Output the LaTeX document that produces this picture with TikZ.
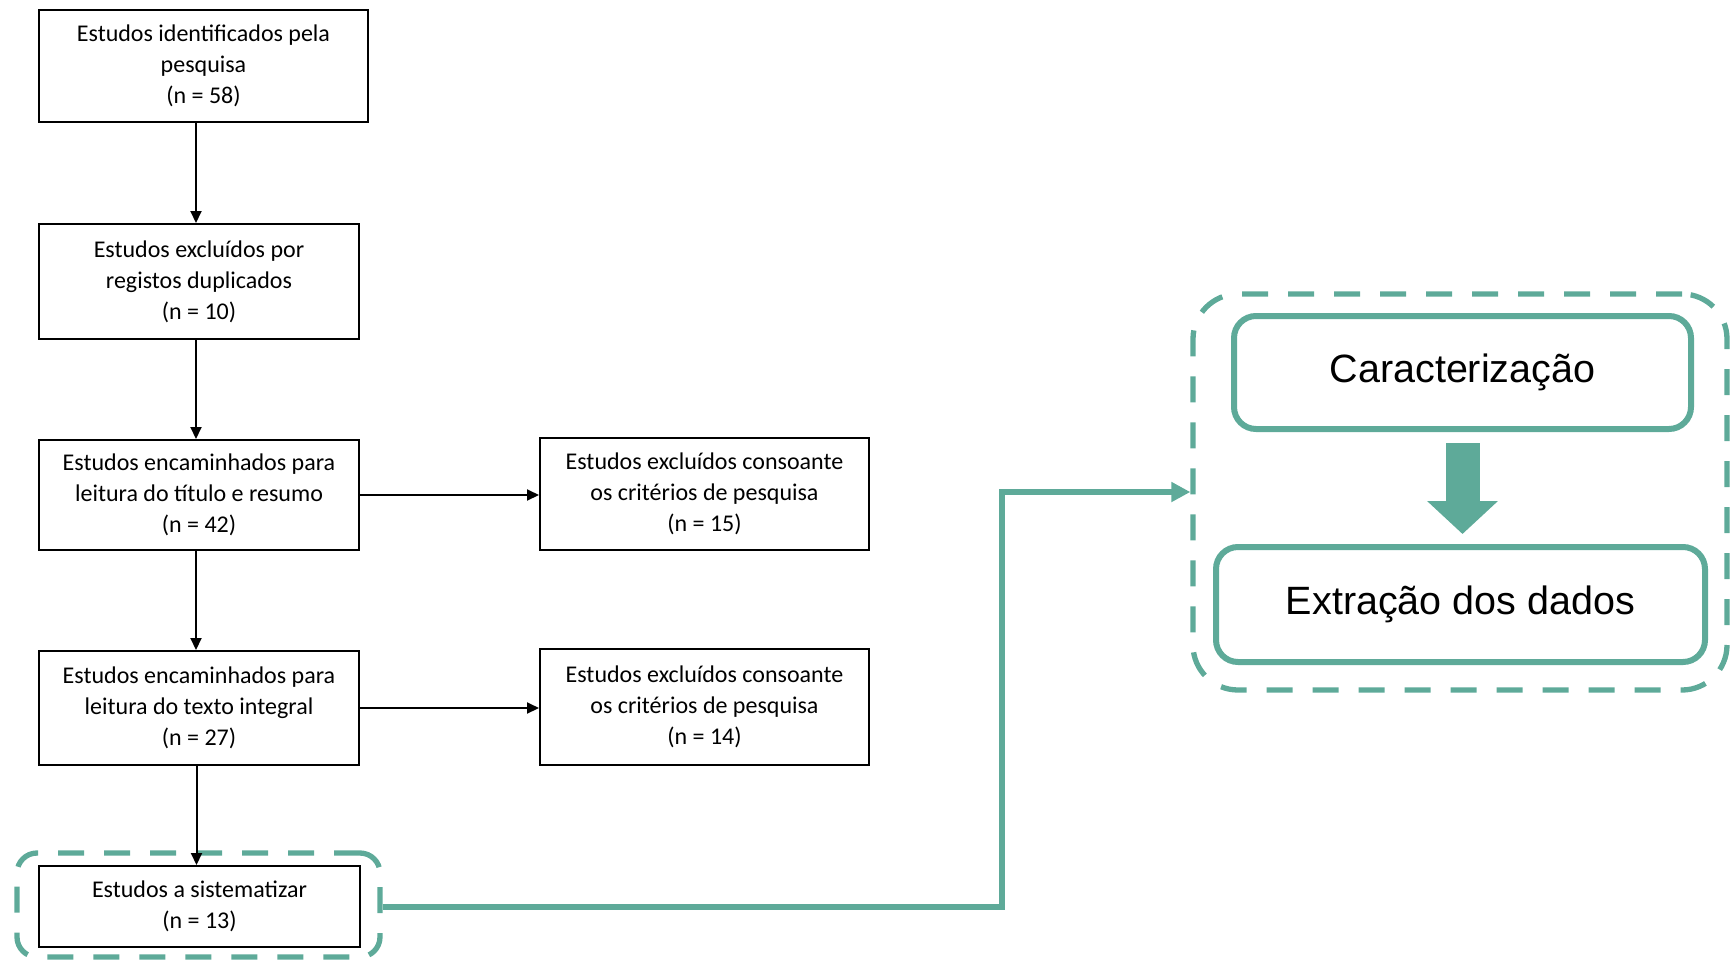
\documentclass[tikz,border=0pt]{standalone}
\usepackage{fontspec}
\setmainfont{Carlito}
\newfontfamily\arialfont{Liberation Sans}
\usetikzlibrary{arrows.meta}
\definecolor{white}{RGB}{255,255,255}
\definecolor{black}{RGB}{0,0,0}
\definecolor{sea_green}{RGB}{94,170,153}

\tikzset{
	stage/.style={rectangle,draw=black,line width=2pt,fill=white,inner sep=0pt,align=center,font=\fontsize{24}{31}\selectfont},
	phase/.style={rectangle,rounded corners=22pt,draw=sea_green,line width=6pt,fill=white,inner sep=0pt,font=\arialfont\fontsize{39.5}{47}\selectfont},
	dashframe/.style={rectangle,draw=sea_green,line width=5.3pt,dash pattern=on 26pt off 20pt,inner sep=0pt},
	flow/.style={black,line width=2pt,-{Triangle[length=12pt,width=11pt]}},
	link/.style={sea_green,line width=6pt,-{Triangle[length=19pt,width=19pt]}}
}

\begin{document}
\begin{tikzpicture}[x=1pt,y=-1pt]
	\useasboundingbox (0,0) rectangle (1733,959);
	
	\node[dashframe,rounded corners=20pt,minimum width=363pt,minimum height=104pt] (sel) at (198.5,905) {};
	\node[dashframe,rounded corners=45pt,minimum width=534pt,minimum height=396pt] (grp) at (1460,492) {};
	
	\node[stage,minimum width=329pt,minimum height=112pt] (1) at (203.5,66) {Estudos identificados pela\\pesquisa\\(n = 58)};
	\node[stage,minimum width=320pt,minimum height=115pt] (2) at (199,281.5) {Estudos excluídos por\\registos duplicados\\(n = 10)};
	\node[stage,minimum width=320pt,minimum height=110pt] (3) at (199,495) {Estudos encaminhados para\\leitura do título e resumo\\(n = 42)};
	\node[stage,minimum width=320pt,minimum height=114pt] (4) at (199,708) {Estudos encaminhados para\\leitura do texto integral\\(n = 27)};
	\node[stage,minimum width=321pt,minimum height=81pt] (5) at (199.5,906.5) {Estudos a sistematizar\\(n = 13)};
	\node[stage,minimum width=329pt,minimum height=112pt] (3x) at (704.5,494) {Estudos excluídos consoante\\os critérios de pesquisa\\(n = 15)};
	\node[stage,minimum width=329pt,minimum height=116pt] (4x) at (704.5,707) {Estudos excluídos consoante\\os critérios de pesquisa\\(n = 14)};
	
	\node[phase,minimum width=457pt,minimum height=113pt] (car) at (1462.5,372.5) {Caracterização};
	\node[phase,minimum width=489pt,minimum height=115pt] (ext) at (1460.5,604.5) {Extração dos dados};
	
	\foreach \x/\y in {1/2,2/3,3/4,4/5}
		\draw[flow] ([xshift=-3pt]\y.north |- \x.south) -- ([xshift=-3pt]\y.north);
	\foreach \x/\y in {3/3x,4/4x}
		\draw[flow] (\x.east) -- (\x.east -| \y.west);
	
	\coordinate (turn) at (1002,0);
	\draw[link] ([yshift=-1.5pt]sel.east) -- ([yshift=-1.5pt]sel.east -| turn) |- (grp.west);
	\draw[sea_green,line width=34pt,shorten <=11pt,shorten >=10pt,-{Triangle[length=33pt,width=69pt]}] (car.south) -- (car.south |- ext.north);
\end{tikzpicture}
\end{document}
